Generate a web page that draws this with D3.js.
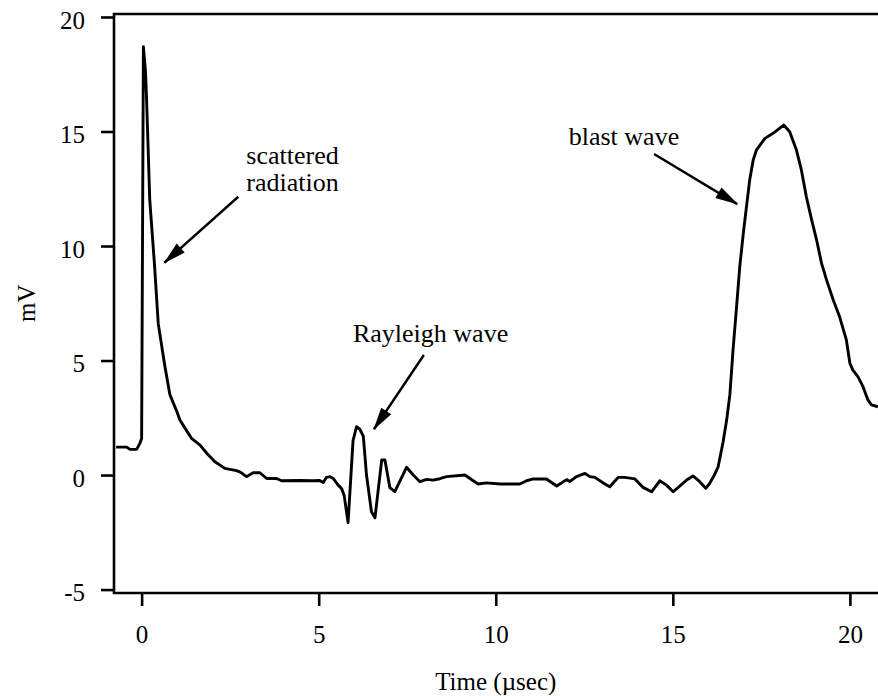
<!DOCTYPE html>
<html>
<head>
<meta charset="utf-8">
<script src="https://cdn.jsdelivr.net/npm/d3@7"></script>
<style>
  html, body { margin: 0; padding: 0; background: #fff; }
  svg { display: block; }
  text { font-family: "Liberation Serif", "Times New Roman", serif; fill: #000; }
</style>
</head>
<body>
<div id="container"></div>
<script>
// trace: time in microseconds, signal in mV
const timeUs = [
  -0.72, -0.42, -0.33, -0.14, -0.05, 0.0, 0.05, 0.11, 0.14, 0.23, 0.36, 0.47, 0.66, 0.80, 1.0,
  1.08, 1.41, 1.65, 1.84, 2.07, 2.35, 2.68, 2.80, 2.96, 3.15, 3.34, 3.53, 3.81, 3.95, 4.47,
  4.84, 5.03, 5.13, 5.22, 5.32, 5.41, 5.55, 5.65, 5.72, 5.83, 5.97, 6.07, 6.16, 6.26, 6.35,
  6.49, 6.59, 6.78, 6.87, 7.01, 7.15, 7.48, 7.67, 7.86, 8.05, 8.23, 8.42, 8.61, 9.13, 9.27,
  9.50, 9.74, 10.12, 10.68, 10.87, 11.06, 11.43, 11.72, 12.0, 12.09, 12.28, 12.52, 12.66, 12.80, 13.08,
  13.22, 13.46, 13.64, 13.93, 14.16, 14.40, 14.63, 14.82, 15.01, 15.39, 15.57, 15.76, 15.93, 16.04, 16.14,
  16.28, 16.42, 16.52, 16.61, 16.70, 16.80, 16.89, 16.99, 17.08, 17.17, 17.27, 17.36, 17.60, 17.83, 18.13,
  18.30, 18.49, 18.63, 18.77, 18.92, 19.06, 19.20, 19.34, 19.53, 19.71, 19.90, 20.0, 20.08, 20.23, 20.37,
  20.51, 20.61, 20.79
];
const signalMv = [
  1.22, 1.22, 1.12, 1.12, 1.38, 1.6, 18.7, 17.6, 16.4, 12.0, 9.26, 6.6, 4.72, 3.5, 2.75,
  2.4, 1.6, 1.31, 0.95, 0.58, 0.29, 0.19, 0.12, -0.07, 0.10, 0.10, -0.15, -0.15, -0.25, -0.24,
  -0.25, -0.24, -0.33, -0.10, -0.07, -0.15, -0.44, -0.6, -0.9, -2.07, 1.5, 2.11, 2.0, 1.7, 0.0,
  -1.6, -1.86, 0.66, 0.66, -0.55, -0.72, 0.34, 0.0, -0.29, -0.19, -0.22, -0.16, -0.07, 0.0, -0.15,
  -0.39, -0.34, -0.39, -0.39, -0.25, -0.17, -0.17, -0.48, -0.2, -0.28, -0.07, 0.07, -0.07, -0.10, -0.39,
  -0.51, -0.10, -0.10, -0.17, -0.54, -0.73, -0.25, -0.44, -0.73, -0.22, -0.04, -0.29, -0.58, -0.36, -0.10,
  0.36, 1.45, 2.40, 3.5, 5.46, 7.35, 9.10, 10.55, 11.72, 12.88, 13.76, 14.19, 14.70, 14.92, 15.28,
  14.99, 14.19, 13.32, 12.15, 11.14, 10.26, 9.24, 8.52, 7.64, 6.91, 5.90, 4.88, 4.59, 4.29, 3.86,
  3.28, 3.06, 2.98
];

const xTicks = [0, 5, 10, 15, 20];
const yTicks = [-5, 0, 5, 10, 15, 20];

// annotations: text lines with anchor point, and arrows tail -> tip (data units)
const labelLines = [
  { text: 'scattered', t: 4.26, v: 13.58, anchor: 'middle' },
  { text: 'radiation', t: 4.26, v: 12.41, anchor: 'middle' },
  { text: 'Rayleigh wave', t: 8.16, v: 5.82, anchor: 'middle' },
  { text: 'blast wave', t: 15.18, v: 14.41, anchor: 'end' }
];
const arrows = [
  { from: [2.73, 12.15], to: [0.64, 9.27] },
  { from: [7.97, 5.24], to: [6.56, 2.0] },
  { from: [14.47, 14.02], to: [16.82, 11.83] }
];

const width = 878, height = 696;
const plot = { left: 114, right: 880, top: 14, bottom: 593 };

const svg = d3.select('#container').append('svg')
  .attr('width', width)
  .attr('height', height);

const x = d3.scaleLinear().domain([-0.78, 20.85]).range([plot.left, plot.right]);
const y = d3.scaleLinear().domain([-5.15, 20.13]).range([plot.bottom, plot.top]);

svg.append('defs').append('marker')
  .attr('id', 'head')
  .attr('markerUnits', 'userSpaceOnUse')
  .attr('viewBox', '-24 -8 26 16')
  .attr('markerWidth', 26)
  .attr('markerHeight', 16)
  .attr('refX', 0)
  .attr('refY', 0)
  .attr('orient', 'auto')
  .append('path')
  .attr('d', 'M1,0 L-22,-6 L-22,6 Z')
  .attr('fill', '#000');

// frame (top + left + bottom; right side runs off the page)
svg.append('path')
  .attr('d', `M${plot.right},${plot.top} L${plot.left},${plot.top} L${plot.left},${plot.bottom} L${plot.right},${plot.bottom}`)
  .attr('fill', 'none')
  .attr('stroke', '#000')
  .attr('stroke-width', 2.6);

const plainNumber = d => String(d);   // hyphen minus, as in the original

const xAxis = svg.append('g')
  .attr('transform', `translate(0,${plot.bottom})`)
  .call(d3.axisBottom(x).tickValues(xTicks).tickSize(13).tickPadding(19).tickFormat(plainNumber));

const yAxis = svg.append('g')
  .attr('transform', `translate(${plot.left},0)`)
  .call(d3.axisLeft(y).tickValues(yTicks).tickSize(13).tickPadding(16).tickFormat(plainNumber));

[xAxis, yAxis].forEach(g => {
  g.select('.domain').remove();
  g.selectAll('.tick line').attr('stroke', '#000').attr('stroke-width', 2.6);
  g.selectAll('.tick text')
    .attr('font-family', '"Liberation Serif", "Times New Roman", serif')
    .attr('font-size', 25)
    .attr('fill', '#000');
});
yAxis.selectAll('.tick text').attr('dy', '0.45em');
xAxis.selectAll('.tick text').attr('dy', '0.71em');

// axis titles
svg.append('text')
  .attr('x', x(10))
  .attr('y', 690)
  .attr('text-anchor', 'middle')
  .attr('font-size', 25)
  .text('Time (\u00b5sec)');

svg.append('text')
  .attr('transform', `translate(35,${y(7.5)}) rotate(-90)`)
  .attr('text-anchor', 'middle')
  .attr('font-size', 25)
  .text('mV');

// the trace
const points = timeUs.map((t, i) => [t, signalMv[i]]);
svg.append('path')
  .datum(points)
  .attr('fill', 'none')
  .attr('stroke', '#000')
  .attr('stroke-width', 2.9)
  .attr('stroke-linejoin', 'round')
  .attr('d', d3.line().x(d => x(d[0])).y(d => y(d[1])));

// annotations
svg.selectAll('.label')
  .data(labelLines)
  .enter().append('text')
  .attr('class', 'label')
  .attr('x', d => x(d.t))
  .attr('y', d => y(d.v))
  .attr('text-anchor', d => d.anchor)
  .attr('font-size', 26)
  .text(d => d.text);

svg.selectAll('.arrow')
  .data(arrows)
  .enter().append('line')
  .attr('class', 'arrow')
  .attr('x1', d => x(d.from[0]))
  .attr('y1', d => y(d.from[1]))
  .attr('x2', d => x(d.to[0]))
  .attr('y2', d => y(d.to[1]))
  .attr('stroke', '#000')
  .attr('stroke-width', 2.4)
  .attr('marker-end', 'url(#head)');
</script>
</body>
</html>
